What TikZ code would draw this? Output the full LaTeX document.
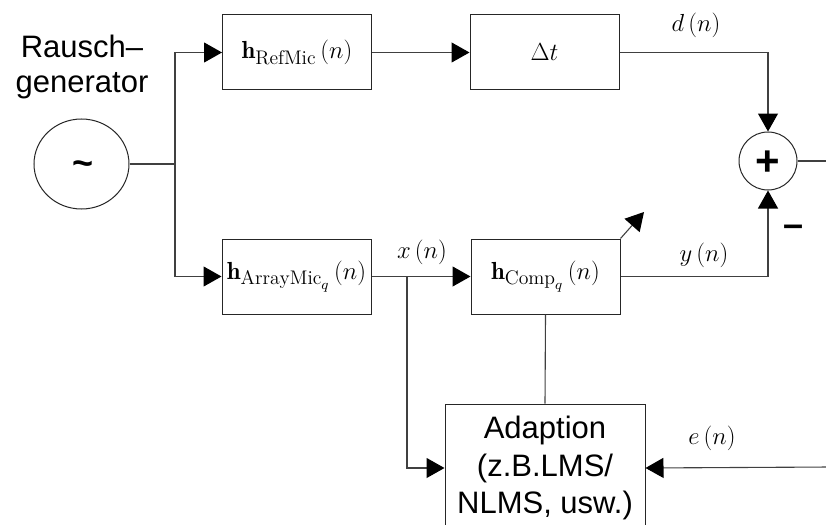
\RequirePackage{fix-cm}
\documentclass[tikz,border=0pt]{standalone}
\usepackage{graphicx}
\usepackage{fontspec}
\newfontfamily\arialf{Liberation Sans}
\usetikzlibrary{arrows.meta,shapes.geometric}
\newcommand\mfont{\fontsize{17.5}{21}\selectfont}
\newcommand\mm[1]{\scalebox{1.41}{$#1$}}
\newcommand\sbs[1]{\scalebox{1.14}{$\scriptstyle #1$}}
\newcommand\bigsans{\arialf\fontsize{31}{35}\selectfont}
\newcommand\symfont{\arialf\bfseries\fontsize{36}{40}\selectfont}
\newcommand\plusfont{\arialf\bfseries\fontsize{42}{46}\selectfont}
\begin{document}
\begin{tikzpicture}[x=1pt,y=-1pt,
  line/.style={draw=black!75,line width=1.1pt},
  arr/.style={line,-{Triangle[length=18pt,width=20pt,color=black]}},
  blk/.style={draw=black!85,line width=1pt,minimum width=149pt,minimum height=75pt,inner sep=0pt,font=\mfont},
  lbl/.style={font=\mfont,inner sep=0pt},
  sym/.style={font=\symfont,inner sep=0pt}]
\useasboundingbox (0,0) rectangle (826,524);
\clip (0,0) rectangle (826,524);
% generator
\node[ellipse,draw=black!85,line width=1pt,minimum width=95pt,minimum height=90pt,inner sep=0pt] (gen) at (81.5,164) {};
\node[sym] (tilde) at (83,168) {\textasciitilde};
\node[font=\bigsans,align=center,inner sep=0pt] (gtext) at (82,67) {Rausch–\\generator};
% blocks
\node[blk] (ref) at (297,52.5) {\mm{\mathbf{h}_{\sbs{\mathrm{RefMic}}}\left(n\right)}};
\node[blk] (arm) at (296.5,276.5) {\mm{\mathbf{h}_{\sbs{\mathrm{ArrayMic}_q}}\left(n\right)}};
\node[blk] (dt) at (544.5,52.5) {\mm{\Delta t}};
\node[blk] (comp) at (545.5,276.5) {\mm{\mathbf{h}_{\sbs{\mathrm{Comp}_q}}\left(n\right)}};
\node[draw=black!85,line width=1pt,minimum width=200pt,minimum height=128pt,inner sep=0pt,
      align=center,font=\arialf\fontsize{31}{37.5}\selectfont] (adapt) at (545,468) {Adaption\\(z.B.LMS/\\NLMS, usw.)};
\node[circle,draw=black!85,line width=1pt,minimum size=58pt,inner sep=0pt] (sum) at (768,161) {};
\node[inner sep=0pt,font=\plusfont] (plus) at (767.5,163) {+};
\node[sym] (minus) at (793,231) {–};
% coordinates
\coordinate (j1) at (175,164);
\coordinate (br) at (407,276.5);
\coordinate (out) at (830,161);
\coordinate (ein) at (830,467);
\coordinate (tip) at (644,212);
% connectors
\draw[line] (gen.east) -- (j1);
\draw[arr] (j1) |- (ref.west);
\draw[arr] (j1) |- (arm.west);
\draw[arr] (ref.east) -- (dt.west);
\draw[arr] (dt.east) -| (sum.north);
\draw[arr] (arm.east) -- (comp.west);
\draw[arr] (br) |- (adapt.west);
\draw[arr] (comp.east) -| (sum.south);
\draw[line] (sum.east) -- (out);
\draw[line] (comp.south) -- (adapt.north);
\draw[arr] (ein) -- (adapt.east);
\draw[arr] (comp.north east) -- (tip);
% labels
\node[lbl] (ld) at (696,25) {\mm{d\left(n\right)}};
\node[lbl] (lx) at (422,252) {\mm{x\left(n\right)}};
\node[lbl] (ly) at (704,255) {\mm{y\left(n\right)}};
\node[lbl] (le) at (712,438) {\mm{e\left(n\right)}};
\end{tikzpicture}
\end{document}
